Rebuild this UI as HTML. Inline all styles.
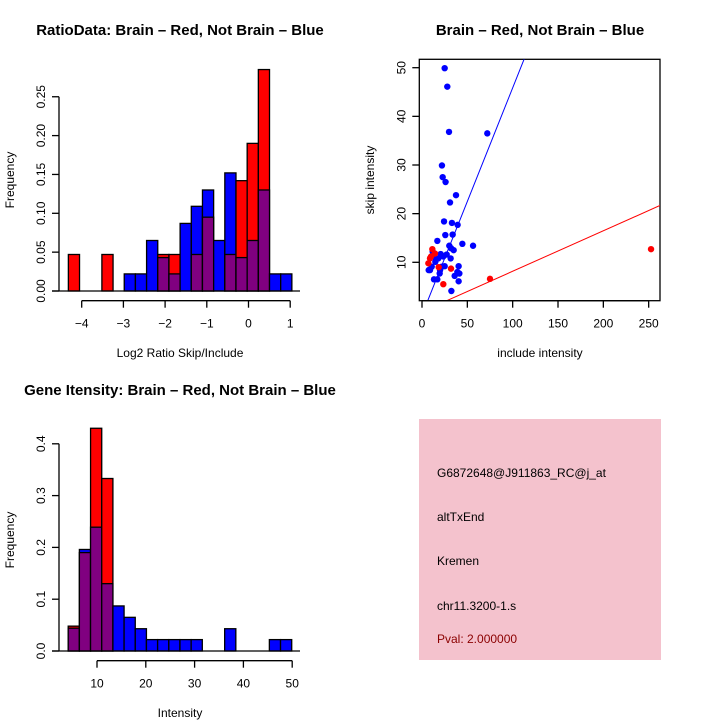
<!DOCTYPE html>
<html><head><meta charset="utf-8"><style>
html,body{margin:0;padding:0;background:#fff}
svg{display:block;font-family:"Liberation Sans",sans-serif}
</style></head><body>
<svg id="chart" width="720" height="720" viewBox="0 0 720 720" xmlns="http://www.w3.org/2000/svg">
<rect x="0" y="0" width="720" height="720" fill="#fff"/>
<g id="p1"></g>
<g id="p2"></g>
<g id="p3"></g>
<g id="p4">
 <rect x="419" y="419" width="242" height="241" fill="#f4c2cd"/>
 <text x="437" y="477" font-size="12">G6872648@J911863_RC@j_at</text>
 <text x="437" y="521" font-size="12">altTxEnd</text>
 <text x="437" y="565" font-size="12">Kremen</text>
 <text x="437" y="610" font-size="12">chr11.3200-1.s</text>
 <text x="437" y="643" font-size="12" fill="#8b0000">Pval: 2.000000</text>
</g>
</svg>
<script>
// Ratio histogram data
const ratioStart = -4.32;
const ratioBinWidth = 0.268;
const ratioRed  = [0.047,0,0,0.047,0,0,0,0,0.047,0.047,0,0.047,0.095,0,0.047,0.142,0.19,0.285,0,0];
const ratioBlue = [0,0,0,0,0,0.022,0.022,0.065,0.043,0.022,0.087,0.109,0.13,0.065,0.152,0.043,0.065,0.13,0.022,0.022];
const ratioYTicks = [0,0.05,0.10,0.15,0.20,0.25];
const ratioYLabels = ["0.00","0.05","0.10","0.15","0.20","0.25"];
const ratioXTicks = [-4,-3,-2,-1,0,1];
// Intensity histogram data
const intStart = 4.1;
const intBinWidth = 2.29;
const intRed  = [0.048,0.19,0.43,0.333,0,0,0,0,0,0,0,0,0,0,0,0,0,0,0,0];
const intBlue = [0.044,0.196,0.239,0.13,0.087,0.065,0.043,0.022,0.022,0.022,0.022,0.022,0,0,0.043,0,0,0,0.022,0.022];
const intYTicks = [0,0.1,0.2,0.3,0.4];
const intYLabels = ["0.0","0.1","0.2","0.3","0.4"];
const intXTicks = [10,20,30,40,50];
// Scatter data
const blueX = [25,27.9,29.8,72,22,22.8,26,37.5,30.9,24.3,33,39.3,25.7,33.8,16.9,44.5,56.3,30.1,32,34.9,11.8,20.6,27.2,31.6,40.4,25,8.8,19.9,39,41.2,36,19.5,13.2,16.9,40.4,32.4,7.4,12.5,14.7,21.7,10.7,18,23.5];
const blueY = [49.9,46.1,36.8,36.5,29.9,27.5,26.5,23.8,22.3,18.4,18.1,17.7,15.6,15.7,14.4,13.8,13.4,13.4,12.9,12.5,12.2,11.7,11.6,10.8,9.2,9.2,8.4,8.4,8,7.7,7.2,7.7,6.5,6.5,6.1,4.1,8.4,11.2,10.1,9.1,9.1,10.8,11.2];
const redX = [7,11.4,14.3,10,18.4,32,75,23.5,252.6,8.8];
const redY = [9.8,12.7,11.8,11.2,9,8.7,6.6,5.5,12.7,10.8];
const blueFit = [-0.84,0.467];
const redFit = [-0.16,0.0832];
const scXTicks = [0,50,100,150,200,250];
const scYTicks = [10,20,30,40,50];

const NS="http://www.w3.org/2000/svg";
function mk(parent,tag,attrs){const e=document.createElementNS(NS,tag);for(const k in attrs)e.setAttribute(k,attrs[k]);parent.appendChild(e);return e;}
function txt(parent,x,y,s,attrs){const e=mk(parent,'text',Object.assign({x:x,y:y},attrs||{}));e.textContent=s;return e;}

function histogram(g,opt){
  const sx=v=>opt.x0+(v-opt.v0)*opt.kx;
  const sy=v=>opt.y0-v*opt.ky;
  const n=opt.red.length;
  for(let i=0;i<n;i++){
    const a=opt.start+i*opt.bw,b=a+opt.bw;
    const r=opt.red[i],bl=opt.blue[i];
    const x1=sx(a),x2=sx(b);
    const draw=(h,col,name)=>{if(h<=0)return;
      const e=mk(g,'rect',{x:x1,y:sy(h),width:x2-x1,height:sy(0)-sy(h),fill:col,stroke:'#000','stroke-width':1.3});
      
      };
    if(r>=bl){draw(r,'#ff0000','bar-red');draw(Math.min(r,bl),'#800080','bar-overlap');}
    else{draw(bl,'#0000ff','bar-blue');draw(Math.min(r,bl),'#800080','bar-overlap');}
  }
  mk(g,'line',{x1:opt.bx1,x2:opt.bx2,y1:sy(0),y2:sy(0),stroke:'#000','stroke-width':1.3});
  const ya=mk(g,'g',{});
  
  
  const yax=opt.yaxX;
  mk(ya,'line',{x1:yax,x2:yax,y1:sy(opt.yt[0]),y2:sy(opt.yt[opt.yt.length-1]),stroke:'#000','stroke-width':1.3});
  opt.yt.forEach((t,i)=>{mk(ya,'line',{x1:yax-7,x2:yax,y1:sy(t),y2:sy(t),stroke:'#000','stroke-width':1.3});
    const e=txt(ya,0,0,opt.yl[i],{'font-size':12,'text-anchor':'middle',transform:`translate(${yax-14},${sy(t)}) rotate(-90)`});
    
    });
  const xa=mk(g,'g',{});
  
  
  const xy=opt.xaxY;
  mk(xa,'line',{x1:sx(opt.xt[0]),x2:sx(opt.xt[opt.xt.length-1]),y1:xy,y2:xy,stroke:'#000','stroke-width':1.3});
  opt.xt.forEach(t=>{mk(xa,'line',{x1:sx(t),x2:sx(t),y1:xy,y2:xy+7,stroke:'#000','stroke-width':1.3});
    const e=txt(xa,sx(t),xy+27,String(t).replace('-','\u2212'),{'font-size':12,'text-anchor':'middle'});
    
    });
  let e=txt(g,opt.tx,opt.ty,opt.title,{'font-size':15,'font-weight':'bold','text-anchor':'middle'});
  
  
  e=txt(g,opt.lx,opt.ly,opt.xlab,{'font-size':12,'text-anchor':'middle'});
  
  
  e=txt(g,0,0,'Frequency',{'font-size':12,'text-anchor':'middle',transform:`translate(14,${opt.fy}) rotate(-90)`});
  
  
}

histogram(document.getElementById('p1'),{x0:81.7,v0:-4,kx:41.7,y0:291,ky:777,start:ratioStart,bw:ratioBinWidth,
  red:ratioRed,blue:ratioBlue,yt:ratioYTicks,yl:ratioYLabels,xt:ratioXTicks,yaxX:59,xaxY:300.7,bx1:52,bx2:300,
  title:'RatioData: Brain \u2013 Red, Not Brain \u2013 Blue',tx:180,ty:35,xlab:'Log2 Ratio Skip/Include',lx:180,ly:357,fy:180});
histogram(document.getElementById('p3'),{x0:97,v0:10,kx:4.88,y0:651,ky:518,start:intStart,bw:intBinWidth,
  red:intRed,blue:intBlue,yt:intYTicks,yl:intYLabels,xt:intXTicks,yaxX:59,xaxY:660.7,bx1:52,bx2:300,
  title:'Gene Itensity: Brain \u2013 Red, Not Brain \u2013 Blue',tx:180,ty:395,xlab:'Intensity',lx:180,ly:717,fy:540});

(function(){
  const g=document.getElementById('p2');
  const L=419.3,R=660,T=59.3,B=300.7;
  const sx=v=>422+v*0.9067;
  const sy=v=>262.3-(v-10)*4.865;
  const frame=mk(g,'rect',{x:L,y:T,width:R-L,height:B-T,fill:'none',stroke:'#000','stroke-width':1.3});
  
  
  const defs=mk(g,'defs',{});
  const cp=mk(defs,'clipPath',{id:'scclip'});
  mk(cp,'rect',{x:L,y:T,width:R-L,height:B-T});
  const lines=mk(g,'g',{'clip-path':'url(#scclip)'});
  [[blueFit,'#0000ff','fit-line-blue'],[redFit,'#ff0000','fit-line-red']].forEach(([f,c,n])=>{
    const e=mk(lines,'line',{x1:sx(-10),y1:sy(f[0]+f[1]*-10),x2:sx(300),y2:sy(f[0]+f[1]*300),stroke:c,'stroke-width':1});
    
    });
  blueX.forEach((x,i)=>{const e=mk(lines,'circle',{cx:sx(x),cy:sy(blueY[i]),r:3.2,fill:'#0000ff'});
    
    });
  redX.forEach((x,i)=>{const e=mk(lines,'circle',{cx:sx(x),cy:sy(redY[i]),r:3.2,fill:'#ff0000'});
    
    });
  const xa=mk(g,'g',{});
  
  
  mk(xa,'line',{x1:sx(0),x2:sx(250),y1:B,y2:B,stroke:'#000','stroke-width':1.3});
  scXTicks.forEach(t=>{mk(xa,'line',{x1:sx(t),x2:sx(t),y1:B,y2:B+7,stroke:'#000','stroke-width':1.3});
    const e=txt(xa,sx(t),B+27,String(t),{'font-size':12,'text-anchor':'middle'});
    
    });
  const ya=mk(g,'g',{});
  
  
  scYTicks.forEach(t=>{mk(ya,'line',{x1:L-7,x2:L,y1:sy(t),y2:sy(t),stroke:'#000','stroke-width':1.3});
    const e=txt(ya,0,0,String(t),{'font-size':12,'text-anchor':'middle',transform:`translate(${L-14},${sy(t)}) rotate(-90)`});
    
    });
  let e=txt(g,540,35,'Brain \u2013 Red, Not Brain \u2013 Blue',{'font-size':15,'font-weight':'bold','text-anchor':'middle'});
  
  
  e=txt(g,540,357,'include intensity',{'font-size':12,'text-anchor':'middle'});
  
  
  e=txt(g,0,0,'skip intensity',{'font-size':12,'text-anchor':'middle',transform:'translate(374,180) rotate(-90)'});
  
  
})();
</script>
</body></html>
